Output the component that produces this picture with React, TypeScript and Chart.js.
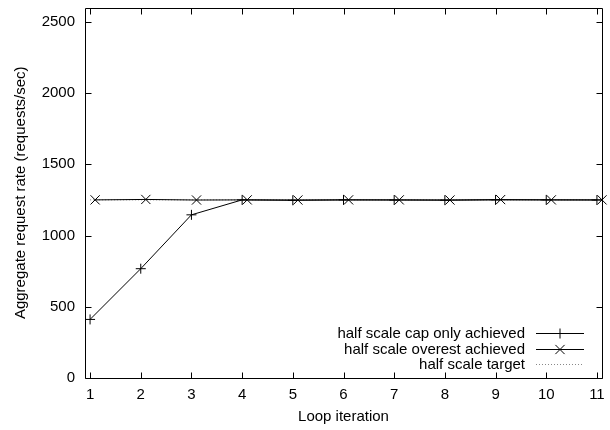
import React, { useEffect, useRef } from 'react';
import { Chart, registerables } from 'chart.js';

Chart.register(...registerables);

// ---- data ----
const iterations = [1, 2, 3, 4, 5, 6, 7, 8, 9, 10, 11];
const overestX = [1.1, 2.1, 3.1, 4.1, 5.1, 6.1, 7.1, 8.1, 9.1, 10.1, 11.1];
const capOnlyAchieved = [411, 767, 1145, 1250, 1247, 1250, 1249, 1248, 1250, 1250, 1249];
const overestAchieved = [1250, 1253, 1249, 1250, 1249, 1250, 1250, 1249, 1252, 1250, 1250];
const targetRate = [1250, 1250, 1250, 1250, 1250, 1250, 1250, 1250, 1250, 1250, 1250];
const xTickValues = [1, 2, 3, 4, 5, 6, 7, 8, 9, 10, 11];
const yTickValues = [0, 500, 1000, 1500, 2000, 2500];
const seriesLabels = [
  'half scale cap only achieved',
  'half scale overest achieved',
  'half scale target',
];

const FONT = '"Liberation Sans", Arial, Helvetica, sans-serif';

const framePlugin = {
  id: 'gnuplotFrame',
  afterDatasetsDraw(chart: any) {
    const { ctx, chartArea } = chart;
    const { left, right, top, bottom } = chartArea;
    const xs = chart.scales.x;
    const ys = chart.scales.y;
    const L = Math.round(left) + 0.5;
    const R = Math.round(right) + 0.5;
    const T = Math.round(top) + 0.5;
    const B = Math.round(bottom) + 0.5;
    ctx.save();
    ctx.strokeStyle = '#000';
    ctx.lineWidth = 1;
    ctx.setLineDash([]);
    ctx.beginPath();
    ctx.rect(L, T, R - L, B - T);
    ctx.stroke();
    const tl = 6;
    ctx.beginPath();
    for (const v of yTickValues) {
      const y = Math.round(ys.getPixelForValue(v)) + 0.5;
      ctx.moveTo(L, y);
      ctx.lineTo(L + tl, y);
      ctx.moveTo(R, y);
      ctx.lineTo(R - tl, y);
    }
    for (const v of xTickValues) {
      const x = Math.round(xs.getPixelForValue(v)) + 0.5;
      ctx.moveTo(x, B);
      ctx.lineTo(x, B - tl);
      ctx.moveTo(x, T);
      ctx.lineTo(x, T + tl);
    }
    ctx.stroke();
    ctx.restore();
  },
};

const legendPlugin = {
  id: 'gnuplotLegend',
  afterDraw(chart: any) {
    const { ctx, chartArea } = chart;
    const { right, bottom } = chartArea;
    const rowsY = [bottom - 45, bottom - 29, bottom - 14];
    const textRight = right - 77;
    const x0 = right - 66;
    const x1 = right - 18;
    const xm = right - 42;
    ctx.save();
    ctx.font = `15px ${FONT}`;
    ctx.fillStyle = '#000';
    ctx.textAlign = 'right';
    ctx.textBaseline = 'middle';
    chart.data.datasets.forEach((ds: any, i: number) => {
      const y = Math.round(rowsY[i]) + 0.5;
      ctx.fillText(ds.label, textRight, y);
      ctx.strokeStyle = ds.borderColor;
      ctx.lineWidth = ds.borderWidth || 1;
      ctx.setLineDash(ds.borderDash || []);
      ctx.beginPath();
      ctx.moveTo(x0, y);
      ctx.lineTo(x1, y);
      ctx.stroke();
      ctx.setLineDash([]);
      const r = ds.pointRadius || 0;
      if (r > 0) {
        ctx.strokeStyle = ds.pointBorderColor || ds.borderColor;
        ctx.beginPath();
        if (ds.pointStyle === 'cross') {
          ctx.moveTo(xm - r, y);
          ctx.lineTo(xm + r, y);
          ctx.moveTo(xm, y - r);
          ctx.lineTo(xm, y + r);
        } else if (ds.pointStyle === 'crossRot') {
          const d = r * Math.SQRT1_2;
          ctx.moveTo(xm - d, y - d);
          ctx.lineTo(xm + d, y + d);
          ctx.moveTo(xm - d, y + d);
          ctx.lineTo(xm + d, y - d);
        }
        ctx.stroke();
      }
    });
    ctx.restore();
  },
};

export default function App() {
  const canvasRef = useRef<HTMLCanvasElement | null>(null);

  useEffect(() => {
    const canvas = canvasRef.current;
    if (!canvas) return;
    const chart = new Chart(canvas, {
      type: 'line',
      data: {
        datasets: [
          {
            label: seriesLabels[0],
            data: iterations.map((x, i) => ({ x, y: capOnlyAchieved[i] })),
            borderColor: '#000',
            backgroundColor: '#000',
            borderWidth: 1,
            pointStyle: 'cross',
            pointRadius: 5,
            pointBorderWidth: 1,
            pointBorderColor: '#000',
            fill: false,
            clip: false,
          },
          {
            label: seriesLabels[1],
            data: overestX.map((x, i) => ({ x, y: overestAchieved[i] })),
            borderColor: '#000',
            backgroundColor: '#000',
            borderWidth: 1,
            pointStyle: 'crossRot',
            pointRadius: 6.5,
            pointBorderWidth: 1,
            pointBorderColor: '#000',
            fill: false,
            clip: false,
          },
          {
            label: seriesLabels[2],
            data: iterations.map((x, i) => ({ x, y: targetRate[i] })),
            borderColor: '#888',
            borderWidth: 1,
            borderDash: [1, 2],
            pointRadius: 0,
            fill: false,
          },
        ] as any,
      },
      options: {
        animation: false,
        responsive: false,
        devicePixelRatio: 1,
        events: [],
        layout: { padding: { top: 7, right: 8, bottom: 0, left: 0 } },
        plugins: {
          legend: { display: false },
          tooltip: { enabled: false },
        },
        scales: {
          x: {
            type: 'linear',
            min: 0.9,
            max: 11.1,
            afterBuildTicks: (s: any) => {
              s.ticks = xTickValues.map((v) => ({ value: v }));
            },
            afterFit: (s: any) => {
              s.height = 52;
              s.paddingLeft = 0;
              s.paddingRight = 0;
              s.paddingTop = 0;
              s.paddingBottom = 0;
            },
            grid: { display: false, drawTicks: false },
            border: { display: false },
            ticks: {
              color: '#000',
              font: { family: FONT, size: 15 },
              padding: 8,
              maxRotation: 0,
              autoSkip: false,
              callback: (v: any) => String(v),
            },
            title: {
              display: true,
              text: 'Loop iteration',
              color: '#000',
              font: { family: FONT, size: 15 },
              padding: { top: 0, bottom: 4 },
            },
          },
          y: {
            type: 'linear',
            min: 0,
            max: 2600,
            afterBuildTicks: (s: any) => {
              s.ticks = yTickValues.map((v) => ({ value: v }));
            },
            afterFit: (s: any) => {
              s.width = 85;
              s.paddingLeft = 0;
              s.paddingRight = 0;
              s.paddingTop = 0;
              s.paddingBottom = 0;
            },
            grid: { display: false, drawTicks: false },
            border: { display: false },
            ticks: {
              color: '#000',
              font: { family: FONT, size: 15 },
              padding: 10,
              autoSkip: false,
              callback: (v: any) => String(v),
            },
            title: {
              display: true,
              text: 'Aggregate request rate (requests/sec)',
              color: '#000',
              font: { family: FONT, size: 15 },
              padding: { top: 12, bottom: 0 },
            },
          },
        },
      } as any,
      plugins: [framePlugin, legendPlugin],
    });
    return () => chart.destroy();
  }, []);

  return (
    <div style={{ position: 'fixed', left: 0, top: 0, width: 610, height: 430, background: '#fff' }}>
      <canvas ref={canvasRef} width={610} height={430} style={{ display: 'block' }} />
    </div>
  );
}
